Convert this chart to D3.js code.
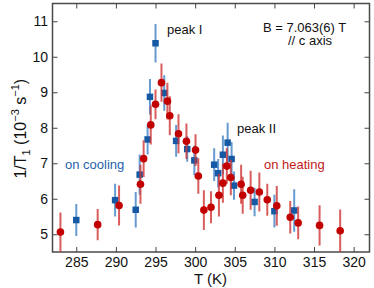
<!DOCTYPE html>
<html>
<head>
<meta charset="utf-8">
<script src="https://cdn.jsdelivr.net/npm/d3@7"></script>
<style>
  body { margin: 0; background: #fff; }
  svg { display: block; font-family: "Liberation Sans", Arial, sans-serif; }
  .tick line { stroke: #444; stroke-width: 1; }
  .domain { display: none; }
</style>
</head>
<body>
<div id="chart"></div>
<script>
// cooling run (blue squares)
var coolT   = [285.0, 289.9, 292.5, 293.0, 294.0, 294.3, 295.0, 296.1, 297.6, 299.0,
               299.9, 302.4, 302.9, 303.5, 304.1, 304.6, 304.9, 307.5, 310.0, 312.5];
var coolR   = [5.40, 5.96, 5.69, 6.68, 7.67, 8.87, 10.38, 8.98, 7.63, 7.40,
               7.08, 6.96, 6.72, 7.24, 7.58, 7.12, 6.37, 5.91, 5.65, 5.67];
var coolErr = [0.45, 0.46, 0.50, 0.57, 0.42, 0.50, 0.54, 0.50, 0.45, 0.36,
               0.42, 0.46, 0.40, 0.54, 0.56, 0.48, 0.40, 0.40, 0.46, 0.60];

// heating run (red circles)
var heatT   = [283.0, 287.7, 290.4, 293.1, 293.5, 294.4, 295.0, 295.75, 296.5, 296.8,
               297.9, 298.9, 300.05, 300.4, 301.1, 302.0, 303.0, 303.5, 304.0, 304.5,
               305.8, 306.0, 307.0, 308.1, 309.1, 310.3, 312.0, 313.0, 315.7, 318.3];
var heatR   = [5.06, 5.27, 5.81, 6.41, 7.13, 8.08, 8.66, 9.27, 8.75, 8.34,
               7.83, 7.62, 7.37, 6.64, 5.68, 5.76, 6.10, 6.44, 6.92, 6.60,
               6.41, 6.10, 6.24, 6.19, 5.97, 5.80, 5.48, 5.32, 5.25, 5.10];
var heatErr = [0.55, 0.44, 0.56, 0.55, 0.52, 0.55, 0.42, 0.54, 0.52, 0.55,
               0.55, 0.50, 0.45, 0.50, 0.56, 0.45, 0.60, 0.55, 0.50, 0.50,
               0.55, 0.52, 0.55, 0.55, 0.45, 0.56, 0.46, 0.46, 0.57, 0.60];

var xTicks = [285, 290, 295, 300, 305, 310, 315, 320];
var yTicks = [5, 6, 7, 8, 9, 10, 11];

var W = 374, H = 288;
var margin = {left: 52.5, right: 4.5, top: 3.5, bottom: 36};

var svg = d3.select("#chart").append("svg")
    .attr("width", W)
    .attr("height", H);

var x = d3.scaleLinear().domain([282, 322]).range([margin.left, W - margin.right]);
var y = d3.scaleLinear().domain([4.5, 11.5]).range([H - margin.bottom, margin.top]);

svg.append("clipPath").attr("id", "plotclip")
    .append("rect")
    .attr("x", x(282)).attr("y", y(11.5))
    .attr("width", x(322) - x(282)).attr("height", y(4.5) - y(11.5));

// axes, ticks pointing inwards on all four sides
var fmt = d3.format("d");
svg.append("g")
    .attr("transform", "translate(0," + y(4.5) + ")")
    .call(d3.axisBottom(x).tickValues(xTicks).tickFormat(fmt)
	  .tickSizeInner(-5).tickSizeOuter(0).tickPadding(5))
    .selectAll("text").attr("font-size", 14).attr("fill", "#111");

svg.append("g")
    .attr("transform", "translate(0," + y(11.5) + ")")
    .call(d3.axisTop(x).tickValues(xTicks).tickFormat("")
	  .tickSizeInner(-5).tickSizeOuter(0));

svg.append("g")
    .attr("transform", "translate(" + x(282) + ",0)")
    .call(d3.axisLeft(y).tickValues(yTicks).tickFormat(fmt)
	  .tickSizeInner(-5).tickSizeOuter(0).tickPadding(4.5))
    .selectAll("text").attr("font-size", 14).attr("fill", "#111");

svg.append("g")
    .attr("transform", "translate(" + x(322) + ",0)")
    .call(d3.axisRight(y).tickValues(yTicks).tickFormat("")
	  .tickSizeInner(-5).tickSizeOuter(0));

svg.append("rect")
    .attr("x", x(282)).attr("y", y(11.5))
    .attr("width", x(322) - x(282)).attr("height", y(4.5) - y(11.5))
    .attr("fill", "none")
    .attr("stroke", "#4a4a4a")
    .attr("stroke-width", 1.5);

// data
var plot = svg.append("g").attr("clip-path", "url(#plotclip)");

function series(T, R, E, barColor, markColor, shape)
{
    var d = T.map(function(t, i){ return {t: t, r: R[i], e: E[i]}; });
    var g = plot.append("g");

    g.selectAll("line.err")
	.data(d)
	.enter()
	.append("line")
	.classed("err", true)
	.attr("x1", function(a){ return x(a.t); })
	.attr("x2", function(a){ return x(a.t); })
	.attr("y1", function(a){ return y(a.r - a.e); })
	.attr("y2", function(a){ return y(a.r + a.e); })
	.attr("stroke", barColor)
	.attr("stroke-width", 2)
	.attr("stroke-opacity", 0.8);

    if (shape == "square"){
	var s = 6.5;
	g.selectAll("rect.mk")
	    .data(d)
	    .enter()
	    .append("rect")
	    .classed("mk", true)
	    .attr("x", function(a){ return x(a.t) - s / 2; })
	    .attr("y", function(a){ return y(a.r) - s / 2; })
	    .attr("width", s).attr("height", s)
	    .attr("fill", markColor);
    }
    else {
	g.selectAll("circle.mk")
	    .data(d)
	    .enter()
	    .append("circle")
	    .classed("mk", true)
	    .attr("cx", function(a){ return x(a.t); })
	    .attr("cy", function(a){ return y(a.r); })
	    .attr("r", 3.8)
	    .attr("fill", markColor);
    }
}

series(coolT, coolR, coolErr, "#3f82c6", "#1559a5", "square");
series(heatT, heatR, heatErr, "#cf3535", "#c20000", "circle");

// labels
svg.append("text")
    .attr("x", (x(282) + x(322)) / 2 - 0.5)
    .attr("y", 284)
    .attr("text-anchor", "middle")
    .attr("font-size", 15)
    .attr("fill", "#111")
    .text("T (K)");

var yl = svg.append("text")
    .attr("transform", "translate(26," + ((y(4.5) + y(11.5)) / 2 + 1) + ") rotate(-90)")
    .attr("text-anchor", "middle")
    .attr("font-size", 16)
    .attr("fill", "#111");
yl.append("tspan").text("1/T");
yl.append("tspan").attr("font-size", 11).attr("dy", 4).text("1");
yl.append("tspan").attr("dy", -4).text(" (10");
yl.append("tspan").attr("font-size", 11).attr("dy", -7).text("\u22123");
yl.append("tspan").attr("dy", 7).text(" s");
yl.append("tspan").attr("font-size", 11).attr("dy", -7).text("\u22121");
yl.append("tspan").attr("dy", 7).text(")");

var notes = [
    {text: "peak I", x: 167, y: 33.5, color: "#111", anchor: "start"},
    {text: "peak II", x: 237, y: 133, color: "#111", anchor: "start"},
    {text: "B = 7.063(6) T", x: 263, y: 31.5, color: "#111", anchor: "start"},
    {text: "// c axis", x: 288, y: 45, color: "#111", anchor: "start"},
    {text: "on cooling", x: 65, y: 169, color: "#1f5fae", anchor: "start"},
    {text: "on heating", x: 264, y: 169, color: "#c21a1a", anchor: "start"}
];

svg.selectAll("text.note")
    .data(notes)
    .enter()
    .append("text")
    .classed("note", true)
    .attr("x", function(d){ return d.x; })
    .attr("y", function(d){ return d.y; })
    .attr("text-anchor", function(d){ return d.anchor; })
    .attr("font-size", 13)
    .attr("fill", function(d){ return d.color; })
    .text(function(d){ return d.text; });
</script>
</body>
</html>
